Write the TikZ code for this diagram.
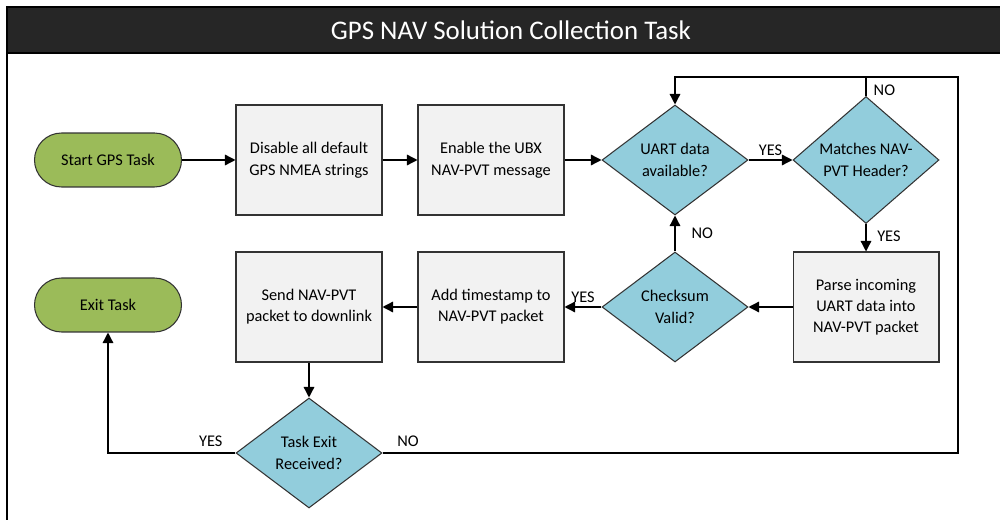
\documentclass[tikz,border=0pt]{standalone}
\usepackage{fontspec}
\setmainfont{Carlito}
\usetikzlibrary{arrows.meta,shapes.geometric,positioning}

\definecolor{titlebar}{HTML}{262626}
\definecolor{boxgray}{HTML}{F2F2F2}
\definecolor{decblue}{HTML}{92CDDC}
\definecolor{termgreen}{HTML}{9BBB59}

\tikzset{
  process/.style={draw=black!80, fill=boxgray, line width=0.6pt, minimum width=2.92cm, minimum height=2.2cm, align=center, font=\fontsize{9.3}{12}\selectfont},
  decision/.style={diamond, draw=black!80, fill=decblue, line width=0.6pt, minimum width=2.92cm, minimum height=2.2cm, inner sep=0pt, align=center, font=\fontsize{9.3}{12.6}\selectfont},
  terminal/.style={rectangle, rounded corners=0.54cm, draw=black!80, fill=termgreen, line width=0.6pt, minimum width=2.94cm, minimum height=1.08cm, font=\fontsize{9.3}{12}\selectfont},
  flow/.style={-{Triangle[length=6pt,width=6pt]}, line width=0.8pt},
  lbl/.style={font=\fontsize{9.3}{11}\selectfont, inner sep=2pt}
}

\begin{document}
\begin{tikzpicture}[x=0.02cm,y=-0.02cm]
  \clip (0,0) rectangle (1000,520);

  % frame and title
  \draw[line width=1.2pt, fill=white] (7,7) rectangle (1015,540);
  \draw[line width=1.2pt, fill=titlebar] (7,7) rectangle (1015,53);
  \node[text=white, font=\fontsize{15.3}{18}\selectfont] (title) at (511,30) {GPS NAV Solution Collection Task};

  % top row
  \node[terminal] (start) at (108,160) {Start GPS Task};
  \node[process, font=\fontsize{9.3}{12.6}\selectfont] (disable) at (309,160) {Disable all default\\GPS NMEA strings};
  \node[process, font=\fontsize{9.3}{12.6}\selectfont] (enable) at (491,160) {Enable the UBX\\NAV-PVT message};
  \node[decision] (uart) at (675,160) {UART data\\available?};
  \node[decision] (match) at (866,160) {Matches NAV-\\PVT Header?};

  % second row
  \node[terminal] (exit) at (108,305) {Exit Task};
  \node[process] (send) at (309,307) {Send NAV-PVT\\packet to downlink};
  \node[process] (stamp) at (491,307) {Add timestamp to\\NAV-PVT packet};
  \node[decision] (check) at (675,307) {Checksum\\Valid?};
  \node[process] (parse) at (866,307) {Parse incoming\\UART data into\\NAV-PVT packet};

  \node[decision] (taskexit) at (309,453) {Task Exit\\Received?};

  \coordinate (loop) at (958,77);

  % connectors
  \draw[flow] (start) -- (disable);
  \draw[flow] (disable) -- (enable);
  \draw[flow] (enable) -- (uart);
  \draw[flow] (uart) -- (match) node[lbl, above, midway] {YES};
  \draw[flow] (match) -- (parse) node[lbl, right=4pt, pos=0.45] {YES};
  \draw[flow] (parse) -- (check);
  \draw[flow] (check) -- (uart) node[lbl, right=7pt, midway] {NO};
  \draw[flow] (check) -- (stamp) node[lbl, above, midway] {YES};
  \draw[flow] (stamp) -- (send);
  \draw[flow] (send) -- (taskexit);
  \draw[flow] (taskexit.west) node[lbl, above left=1pt and 5pt] {YES} -| (exit);
  \draw[flow] (taskexit.east) node[lbl, above right=1pt and 6pt] {NO} -| (loop) -| (uart.north);
  \draw[line width=0.8pt] (match.north) -- (match.north |- loop) node[lbl, right=2pt, pos=0.3] {NO};

\end{tikzpicture}
\end{document}
